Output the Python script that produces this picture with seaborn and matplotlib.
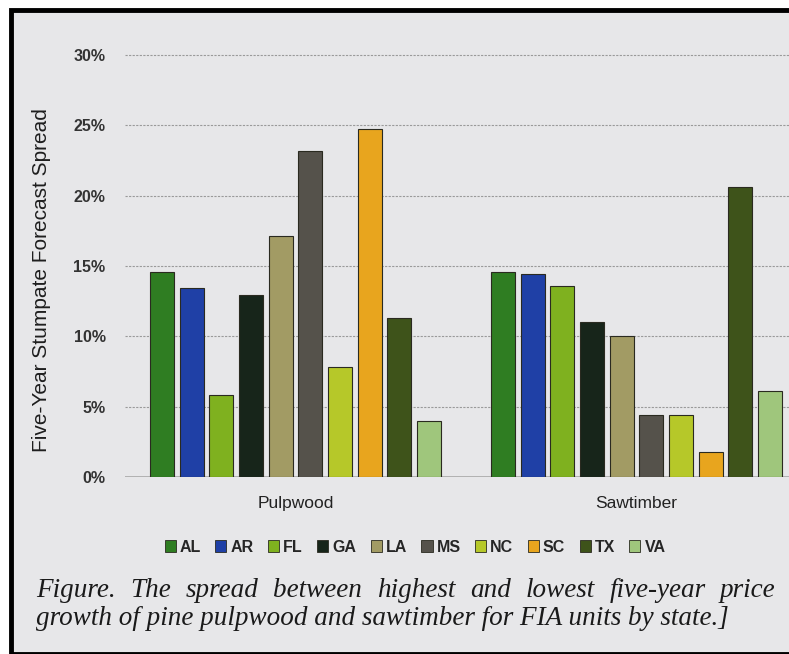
import matplotlib
matplotlib.use('Agg')
import matplotlib.pyplot as plt
import matplotlib.patches as mpatches
import seaborn as sns
import pandas as pd
import numpy as np

# values (percent)
products = ['Pulpwood', 'Sawtimber']
states = ['AL', 'AR', 'FL', 'GA', 'LA', 'MS', 'NC', 'SC', 'TX', 'VA']
pulpwood = [14.6, 13.4, 5.8, 12.9, 17.1, 23.2, 7.8, 24.7, 11.3, 4.0]
sawtimber = [14.6, 14.4, 13.6, 11.0, 10.0, 4.4, 4.4, 1.8, 20.6, 6.1]
colors = ['#2f7d22', '#1f40a6', '#7fb11f', '#17251a', '#a29b64',
          '#55524b', '#b6c829', '#e8a51e', '#3e531a', '#9fc67c']
ytick_vals = [0, 5, 10, 15, 20, 25, 30]
caption1 = 'Figure. The spread between highest and lowest five-year price'
caption2 = 'growth of pine pulpwood and sawtimber for FIA units by state.]'

df = pd.DataFrame({
    'product': np.repeat(products, len(states)),
    'state': states * 2,
    'value': pulpwood + sawtimber,
})

bg = '#e7e7e9'
sns.set_style('white')
plt.rcParams['font.family'] = ['Liberation Sans', 'DejaVu Sans']

W, H = 789, 654
fig = plt.figure(figsize=(W / 100, H / 100), dpi=100)
fig.patch.set_facecolor('white')

# light page with black frame
fig.add_artist(mpatches.Rectangle((11 / W, 0.5 / H), 800 / W, (H - 10) / H,
                                  transform=fig.transFigure, facecolor=bg,
                                  edgecolor='black', linewidth=3.5, zorder=0))

px = 14.07  # pixels per percent
ax = fig.add_axes([125 / W, (H - 477) / H, 682 / W, 30.6 * px / H])
ax.set_facecolor('none')

sns.barplot(data=df, x='product', y='value', hue='state', palette=colors,
            width=0.87, gap=0.18, edgecolor='#2a2a20', linewidth=0.8,
            saturation=1, legend=False, ax=ax, zorder=3)

ax.set_xlim(-0.5, 1.5)
ax.set_ylim(0, 30.6)
ax.set_yticks(ytick_vals)
ax.set_yticklabels([f'{v}%' for v in ytick_vals], fontsize=11.5,
                   fontweight='bold', color='#333333')
for v in ytick_vals[1:]:
    ax.axhline(v, color='#9a9a9a', linewidth=0.8, linestyle=(0, (2, 1.2)), zorder=1)
ax.axhline(0, color='#a8a8a8', linewidth=1.2, zorder=1)
ax.tick_params(axis='y', length=0, pad=14)
ax.tick_params(axis='x', length=0, pad=14, labelsize=12.5, labelcolor='#222222')
ax.set_xlabel('')
ax.set_ylabel('Five-Year Stumpate Forecast Spread', fontsize=15, color='#1e1e1e')
ax.yaxis.set_label_coords(-0.108, 0.458)
sns.despine(ax=ax, left=True, bottom=True)

handles = [mpatches.Patch(facecolor=c, edgecolor='#2a2a20', linewidth=0.6) for c in colors]
fig.legend(handles, states, loc='center', bbox_to_anchor=(415 / W, 1 - 547 / H),
           ncol=10, frameon=False, handlelength=0.7, handleheight=0.7,
           handletextpad=0.25, columnspacing=0.9,
           prop={'weight': 'bold', 'size': 11.5})

cap_font = dict(family=['Liberation Serif', 'DejaVu Serif'], style='italic',
                fontsize=19.5, color='#1a1a1a', va='baseline')

# justified first line: words spread so the last word starts near x=720
renderer = fig.canvas.get_renderer()
words = caption1.split()
texts = [fig.text(0, 1 - 597 / H, w, **cap_font) for w in words]
widths = [t.get_window_extent(renderer).width for t in texts]
x0, x_last = 36, 720
gap = (x_last - x0 - sum(widths[:-1])) / (len(words) - 1)
x = x0
for t, wd in zip(texts, widths):
    t.set_x(x / W)
    x += wd + gap
fig.text(36 / W, 1 - 625 / H, caption2, **cap_font)

fig.savefig('out.png', dpi=100, facecolor=fig.get_facecolor())
